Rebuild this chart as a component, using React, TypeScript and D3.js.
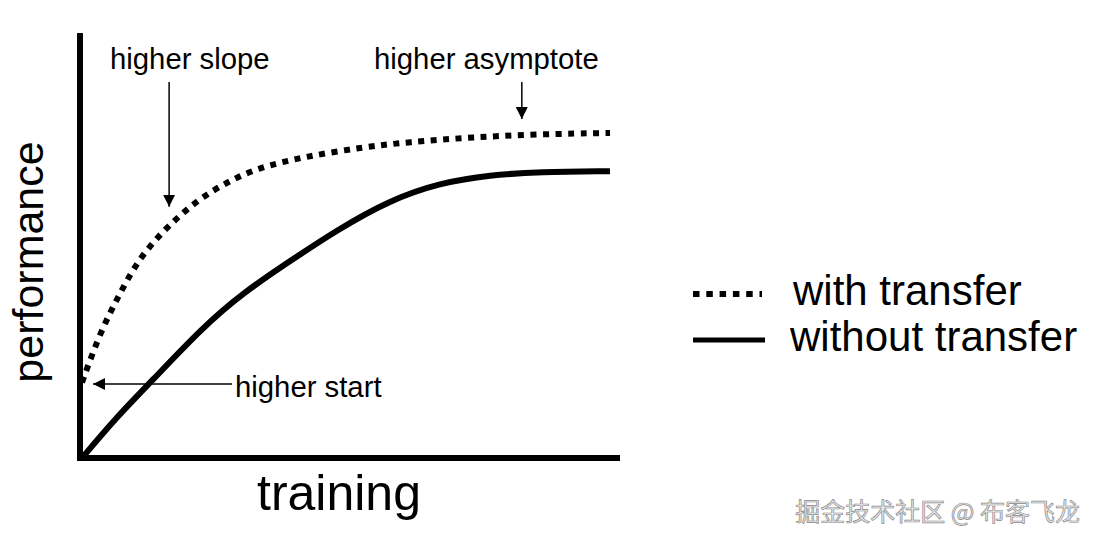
import { useEffect, useRef } from "react";
import * as d3 from "d3";

// curve with transfer (dotted)
const trainingWith = [0, 3.4, 7.2, 11, 16.1, 21.8, 27.5, 33.1, 41.9, 53.2, 61.6, 74.1, 86.7, 100];
const perfWith = [18, 29.8, 39.3, 47.9, 55, 61.4, 65.7, 69, 71.7, 74, 75.2, 76.4, 77.1, 77.4];

// curve without transfer (solid)
const trainingWithout = [0, 6.6, 12.9, 22.9, 30.5, 38.8, 48.3, 58.3, 67.8, 77.3, 86.7, 100];
const perfWithout = [0, 9.8, 17.9, 31.2, 39.3, 46.4, 54.3, 61.4, 65.5, 67.4, 68.1, 68.3];

const legendLabels = ["with transfer", "without transfer"];
const FONT = "'Liberation Sans', Arial, Helvetica, sans-serif";

export default function App() {
  const ref = useRef<SVGSVGElement>(null);

  useEffect(() => {
    if (!ref.current) return;
    const svg = d3.select(ref.current);
    svg.selectAll("*").remove();

    const W = 1098;
    const H = 542;
    svg.attr("width", W).attr("height", H).attr("viewBox", `0 0 ${W} ${H}`);

    const x = d3.scaleLinear().domain([0, 100]).range([82, 610]);
    const y = d3.scaleLinear().domain([0, 100]).range([458, 38]);

    // arrow marker
    svg
      .append("defs")
      .append("marker")
      .attr("id", "arrow")
      .attr("markerUnits", "userSpaceOnUse")
      .attr("viewBox", "0 0 12 12")
      .attr("refX", 12)
      .attr("refY", 6)
      .attr("markerWidth", 12)
      .attr("markerHeight", 12)
      .attr("orient", "auto")
      .append("path")
      .attr("d", "M0,0 L12,6 L0,12 Z")
      .attr("fill", "#000");

    // axes (no ticks)
    svg
      .append("path")
      .attr("d", `M80,33 L80,${y(0)} L620,${y(0)}`)
      .attr("fill", "none")
      .attr("stroke", "#000")
      .attr("stroke-width", 6)
      .attr("stroke-linejoin", "miter");

    const line = d3
      .line<[number, number]>()
      .x((d) => x(d[0]))
      .y((d) => y(d[1]))
      .curve(d3.curveBasis);

    const withPts: [number, number][] = trainingWith.map((t, i) => [t, perfWith[i]]);
    const withoutPts: [number, number][] = trainingWithout.map((t, i) => [t, perfWithout[i]]);

    svg
      .append("path")
      .datum(withoutPts)
      .attr("fill", "none")
      .attr("stroke", "#000")
      .attr("stroke-width", 6)
      .attr("d", line);

    svg
      .append("path")
      .datum(withPts)
      .attr("fill", "none")
      .attr("stroke", "#000")
      .attr("stroke-width", 6)
      .attr("stroke-dasharray", "6 6.5")
      .attr("d", line);

    // axis labels
    svg
      .append("text")
      .attr("transform", `translate(43,262) rotate(-90)`)
      .attr("text-anchor", "middle")
      .attr("font-family", FONT)
      .attr("font-size", 43)
      .text("performance");
    svg
      .append("text")
      .attr("x", 339)
      .attr("y", 510)
      .attr("text-anchor", "middle")
      .attr("font-family", FONT)
      .attr("font-size", 50)
      .text("training");

    // annotations
    const note = (tx: number, ty: number, label: string) =>
      svg
        .append("text")
        .attr("x", tx)
        .attr("y", ty)
        .attr("font-family", FONT)
        .attr("font-size", 29.3)
        .text(label);
    const arrow = (x1: number, y1: number, x2: number, y2: number) =>
      svg
        .append("line")
        .attr("x1", x1)
        .attr("y1", y1)
        .attr("x2", x2)
        .attr("y2", y2)
        .attr("stroke", "#000")
        .attr("stroke-width", 1.5)
        .attr("marker-end", "url(#arrow)");

    note(110, 69, "higher slope");
    arrow(x(16.5), 82, x(16.5), y(59.8));
    note(374, 69, "higher asymptote");
    arrow(x(83.3), 82, x(83.3), y(80.7));
    note(235, 397, "higher start");
    arrow(232, y(17.6), x(2.1), y(17.6));

    // legend
    const leg = svg.append("g").attr("font-family", FONT).attr("font-size", 42);
    legendLabels.forEach((lab, i) => {
      const ly = [294, 340][i];
      leg
        .append("line")
        .attr("x1", 693)
        .attr("x2", i === 0 ? 762 : 765)
        .attr("y1", ly)
        .attr("y2", ly)
        .attr("stroke", "#000")
        .attr("stroke-width", i === 0 ? 6 : 5)
        .attr("stroke-dasharray", i === 0 ? "6.5 6.8" : null);
      leg
        .append("text")
        .attr("x", i === 0 ? 793 : 790)
        .attr("y", [305, 351][i])
        .text(lab);
    });

    // watermark
    svg
      .append("text")
      .attr("x", 1080)
      .attr("y", 521)
      .attr("text-anchor", "end")
      .attr("font-family", "'Noto Sans CJK SC', sans-serif")
      .attr("font-size", 25)
      .attr("fill", "#ececec")
      .attr("stroke", "#8a8a8a")
      .attr("stroke-width", 0.7)
      .text("掘金技术社区 @ 布客飞龙");
  }, []);

  return (
    <svg
      ref={ref}
      style={{ position: "absolute", left: 0, top: 0, background: "#fff" }}
    />
  );
}
